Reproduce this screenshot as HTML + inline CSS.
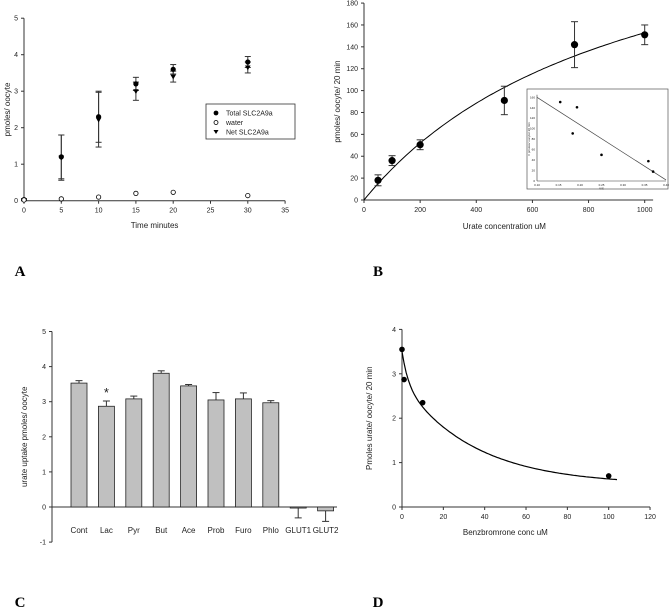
<!DOCTYPE html>
<html><head><meta charset="utf-8">
<style>
body{margin:0;background:#fff;}
svg{display:block;font-family:"Liberation Sans",sans-serif;}
.t{font-size:7px;fill:#222;}
.l{font-size:8px;fill:#222;}
.L{font-family:"Liberation Serif",serif;font-weight:bold;font-size:15px;fill:#000;}
</style></head>
<body>
<svg id="s" width="669" height="611" viewBox="0 0 669 611"></svg>
<script>
// Panel A data
const aTimes=[0,5,10,15,20,30];
const aTotal=[0.03,1.2,2.3,3.2,3.6,3.8];
const aTotalErr=[0.02,0.6,0.7,0.18,0.13,0.15];
const aNet=[0.02,1.18,2.22,3.0,3.4,3.65];
const aNetErr=[0.02,0.62,0.75,0.25,0.15,0.15];
const aWater=[0.02,0.05,0.1,0.2,0.23,0.14];
const aXTicks=[0,5,10,15,20,25,30,35];
const aYTicks=[0,1,2,3,4,5];
// Panel B data
const bConc=[50,100,200,500,750,1000];
const bUptake=[18,36,50.5,91,142,151];
const bErr=[5,4.5,4.5,13,21,9];
const bXTicks=[0,200,400,600,800,1000];
const bYTicks=[0,20,40,60,80,100,120,140,160,180];
const bVmax=297, bKm=943;
const insetX=[0.154,0.193,0.183,0.25,0.359,0.37];
const insetY=[151,141,91,50,38,18];
const insetXTicks=[0.10,0.15,0.20,0.25,0.30,0.35,0.40];
const insetYTicks=[0,20,40,60,80,100,120,140,160];
// Panel C data
const cCats=["Cont","Lac","Pyr","But","Ace","Prob","Furo","Phlo","GLUT1","GLUT2"];
const cVals=[3.53,2.87,3.08,3.81,3.45,3.05,3.08,2.97,-0.03,-0.11];
const cErr=[0.07,0.15,0.08,0.07,0.04,0.21,0.17,0.06,0.28,0.3];
const cYTicks=[-1,0,1,2,3,4,5];
// Panel D data
const dConc=[0,1,10,100];
const dUptake=[3.55,2.87,2.35,0.7];
const dXTicks=[0,20,40,60,80,100,120];
const dYTicks=[0,1,2,3,4];

const S=document.getElementById('s');
const NS='http://www.w3.org/2000/svg';
function mk(tag,at,name,parent){const e=document.createElementNS(NS,tag);for(const k in at)e.setAttribute(k,at[k]);


(parent||S).appendChild(e);return e;}
function line(x1,y1,x2,y2,name,w,c){return mk('line',{x1,y1,x2,y2,stroke:c||'#333','stroke-width':w||1},name);}
function text(x,y,s,cls,name,anchor,rot){const e=mk('text',{x,y,class:cls,'text-anchor':anchor||'middle'},name);if(rot)e.setAttribute('transform',`rotate(-90 ${x} ${y})`);e.textContent=s;return e;}
function errbar(x,y1,y2,name,hw){line(x,y1,x,y2,name);line(x-hw,y1,x+hw,y1,name+'-cap');line(x-hw,y2,x+hw,y2,name+'-cap');}

// ---------- Panel A ----------
const ax=v=>24+v*7.46, ay=v=>200.7-v*36.5;
line(ax(0),ay(5),ax(0),ay(0),'a-y-axis');
line(ax(0),ay(0),ax(35),ay(0),'a-x-axis');
aYTicks.forEach(v=>{line(ax(0)-3,ay(v),ax(0),ay(v),'a-y-tick');text(ax(0)-6,ay(v)+2.5,v,'t','a-y-tick-label','end');});
aXTicks.forEach(v=>{line(ax(v),ay(0),ax(v),ay(0)+3,'a-x-tick');text(ax(v),ay(0)+12,v,'t','a-x-tick-label');});
text(ax(17.5),228,'Time minutes','l','a-x-axis-title');
text(10,ay(2.5),'pmoles/ oocyte','l','a-y-axis-title','middle',true);
aTimes.forEach((t,i)=>{
 errbar(ax(t),ay(aTotal[i]+aTotalErr[i]),ay(aTotal[i]-aTotalErr[i]),'a-total-error',3);
 errbar(ax(t),ay(aNet[i]+aNetErr[i]),ay(aNet[i]-aNetErr[i]),'a-net-error',3);
 mk('circle',{cx:ax(t),cy:ay(aTotal[i]),r:2.6,fill:'#000'},'a-total-point');
 const x=ax(t),y=ay(aNet[i]);
 mk('path',{d:`M${x-2.8},${y-2} L${x+2.8},${y-2} L${x},${y+2.8} Z`,fill:'#000'},'a-net-point');
 mk('circle',{cx:ax(t),cy:ay(aWater[i]),r:2.2,fill:'#fff',stroke:'#000','stroke-width':0.8},'a-water-point');
});
mk('rect',{x:206,y:104,width:89,height:35,fill:'#fff',stroke:'#333','stroke-width':0.8},'a-legend');
mk('circle',{cx:216,cy:113,r:2.4,fill:'#000'},'a-legend-total-marker');
text(226,115.5,'Total SLC2A9a','t','a-legend-total','start');
mk('circle',{cx:216,cy:122.5,r:2,fill:'#fff',stroke:'#000','stroke-width':0.8},'a-legend-water-marker');
text(226,125,'water','t','a-legend-water','start');
mk('path',{d:'M213.5,130 L218.5,130 L216,134 Z',fill:'#000'},'a-legend-net-marker');
text(226,134.5,'Net SLC2A9a','t','a-legend-net','start');
text(20,276,'A','L','panel-a-label');

// ---------- Panel B ----------
const bx=v=>364+v*0.2807, by=v=>200-v*1.094;
line(bx(0),by(180),bx(0),by(0),'b-y-axis');
line(bx(0),by(0),bx(1030),by(0),'b-x-axis');
bYTicks.forEach(v=>{line(bx(0)-3,by(v),bx(0),by(v),'b-y-tick');text(bx(0)-6,by(v)+2.5,v,'t','b-y-tick-label','end');});
bXTicks.forEach(v=>{line(bx(v),by(0),bx(v),by(0)+3,'b-x-tick');text(bx(v),by(0)+12,v,'t','b-x-tick-label');});
text(bx(500),229,'Urate concentration uM','l','b-x-axis-title');
text(340,by(90),'pmoles/ oocyte/ 20 min','l','b-y-axis-title','middle',true);
let pd='';for(let c=0;c<=1000;c+=10){const v=bVmax*c/(bKm+c);pd+=(c?'L':'M')+bx(c).toFixed(1)+','+by(v).toFixed(1);}
mk('path',{d:pd,fill:'none',stroke:'#000','stroke-width':1},'b-fit-curve');
bConc.forEach((c,i)=>{errbar(bx(c),by(bUptake[i]+bErr[i]),by(bUptake[i]-bErr[i]),'b-error',3.5);
 mk('circle',{cx:bx(c),cy:by(bUptake[i]),r:3.6,fill:'#000'},'b-point');});
// inset
mk('rect',{x:527,y:89,width:141,height:100,fill:'#fff',stroke:'#555','stroke-width':0.7},'b-inset-box');
const ix=v=>537+(v-0.1)/0.3*129, iy=v=>181-v*0.523;
line(ix(0.1),iy(165),ix(0.1),iy(0),'b-inset-y-axis',0.6);
line(ix(0.1),iy(0),ix(0.4),iy(0),'b-inset-x-axis',0.6);
insetYTicks.forEach(v=>{text(ix(0.1)-2,iy(v)+1,v,'t','b-inset-y-label','end').setAttribute('style','font-size:3px');});
insetXTicks.forEach(v=>{text(ix(v),iy(0)+5,v.toFixed(2),'t','b-inset-x-label').setAttribute('style','font-size:3px');});
text(ix(0.25),iy(0)+8.5,'V/S','t','b-inset-x-title').setAttribute('style','font-size:3px');
text(530,iy(80),'V pmoles/ oocyte/ 20 min','t','b-inset-y-title','middle',true).setAttribute('style','font-size:3px');
line(ix(0.1),iy(160),ix(0.4),iy(2),'b-inset-fit-line',0.7,'#444');
insetX.forEach((v,i)=>mk('circle',{cx:ix(v),cy:iy(insetY[i]),r:1.3,fill:'#000'},'b-inset-point'));
text(378,276,'B','L','panel-b-label');

// ---------- Panel C ----------
const cx0=52, cy=v=>507-v*35.1, cStep=27.4, cFirst=79;
line(cx0,cy(5),cx0,cy(-1),'c-y-axis');
line(cx0,cy(0),cx0+285,cy(0),'c-zero-line');
cYTicks.forEach(v=>{line(cx0-3,cy(v),cx0,cy(v),'c-y-tick');text(cx0-6,cy(v)+2.5,v,'t','c-y-tick-label','end');});
text(27,cy(2),'urate uptake pmoles/ oocyte','l','c-y-axis-title','middle',true);
cCats.forEach((c,i)=>{const x=cFirst+i*cStep,v=cVals[i];
 const e=v>=0?cy(v+cErr[i]):cy(v-cErr[i]);
 line(x,cy(v),x,e,'c-error-'+c.toLowerCase());line(x-3.5,e,x+3.5,e,'c-error-cap');
 mk('rect',{x:x-8,y:Math.min(cy(v),cy(0)),width:16,height:Math.abs(cy(v)-cy(0)),fill:'#c0c0c0',stroke:'#222','stroke-width':0.8},'c-bar-'+c.toLowerCase());
 text(x,533,c,'l','c-x-label');});
text(cFirst+cStep,cy(3.3)+6,'*','l','c-significance-mark').setAttribute('style','font-size:13px');
text(20,607,'C','L','panel-c-label');

// ---------- Panel D ----------
const dx=v=>402+v*2.067, dy=v=>507-v*44.4;
line(dx(0),dy(4),dx(0),dy(0),'d-y-axis');
line(dx(0),dy(0),dx(120),dy(0),'d-x-axis');
dYTicks.forEach(v=>{line(dx(0)-3,dy(v),dx(0),dy(v),'d-y-tick');text(dx(0)-6,dy(v)+2.5,v,'t','d-y-tick-label','end');});
dXTicks.forEach(v=>{line(dx(v),dy(0),dx(v),dy(0)+3,'d-x-tick');text(dx(v),dy(0)+12,v,'t','d-x-tick-label');});
text(dx(50),535,'Benzbromrone conc uM','l','d-x-axis-title');
text(372,dy(2),'Pmoles urate/ oocyte/ 20 min','l','d-y-axis-title','middle',true);
let qd='';for(let c=0;c<=104;c+=1){const v=0.5+0.7*Math.exp(-c/3)+2.3*Math.exp(-c/35);qd+=(c?'L':'M')+dx(c).toFixed(1)+','+dy(v).toFixed(1);}
mk('path',{d:qd,fill:'none',stroke:'#000','stroke-width':1.2},'d-fit-curve');
dConc.forEach((c,i)=>mk('circle',{cx:dx(c),cy:dy(dUptake[i]),r:2.8,fill:'#000'},'d-point'));
text(378,607,'D','L','panel-d-label');
</script>
</body></html>
